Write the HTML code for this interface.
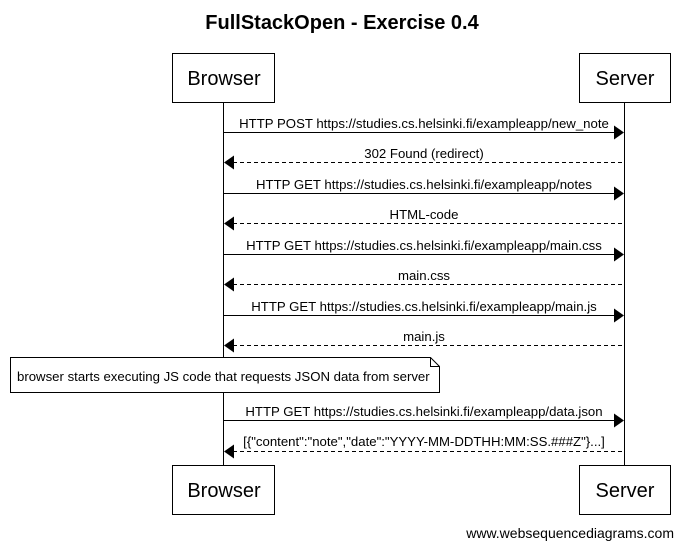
<!DOCTYPE html>
<html><head><meta charset="utf-8"><style>
body{margin:0;background:#fff}
svg{display:block}
text{font-family:"Liberation Sans",Arial,sans-serif;fill:#000}
</style></head><body>
<svg width="683" height="549" viewBox="0 0 683 549" xmlns="http://www.w3.org/2000/svg">
<text x="342" y="29" text-anchor="middle" font-size="20" font-weight="bold">FullStackOpen - Exercise 0.4</text>
<g stroke="#000" fill="#fff">
<line x1="223.5" y1="102" x2="223.5" y2="465"/>
<line x1="624.5" y1="102" x2="624.5" y2="465"/>
<rect x="172.5" y="53.5" width="102" height="49"/>
<rect x="579.5" y="53.5" width="91" height="49"/>
<rect x="172.5" y="465.5" width="102" height="49"/>
<rect x="579.5" y="465.5" width="91" height="49"/>
</g>
<g font-size="20" text-anchor="middle">
<text x="224" y="85">Browser</text><text x="625" y="85">Server</text>
<text x="224" y="497">Browser</text><text x="625" y="497">Server</text>
</g>
<g stroke="#000" stroke-width="1">
<line x1="224" y1="132.5" x2="615" y2="132.5"/>
<line x1="233" y1="162.5" x2="624" y2="162.5" stroke-dasharray="4,3"/>
<line x1="224" y1="193.5" x2="615" y2="193.5"/>
<line x1="233" y1="223.5" x2="624" y2="223.5" stroke-dasharray="4,3"/>
<line x1="224" y1="254.5" x2="615" y2="254.5"/>
<line x1="233" y1="284.5" x2="624" y2="284.5" stroke-dasharray="4,3"/>
<line x1="224" y1="315.5" x2="615" y2="315.5"/>
<line x1="233" y1="345.5" x2="624" y2="345.5" stroke-dasharray="4,3"/>
<line x1="224" y1="420.5" x2="615" y2="420.5"/>
<line x1="233" y1="451.5" x2="624" y2="451.5" stroke-dasharray="4,3"/>
</g>
<g fill="#000">
<path d="M614 125.5L624 132.5L614 139.5Z"/>
<path d="M234 155.5L224 162.5L234 169.5Z"/>
<path d="M614 186.5L624 193.5L614 200.5Z"/>
<path d="M234 216.5L224 223.5L234 230.5Z"/>
<path d="M614 247.5L624 254.5L614 261.5Z"/>
<path d="M234 277.5L224 284.5L234 291.5Z"/>
<path d="M614 308.5L624 315.5L614 322.5Z"/>
<path d="M234 338.5L224 345.5L234 352.5Z"/>
<path d="M614 413.5L624 420.5L614 427.5Z"/>
<path d="M234 444.5L224 451.5L234 458.5Z"/>
</g>
<g font-size="13.2" text-anchor="middle">
<text x="424" y="128">HTTP POST https://studies.cs.helsinki.fi/exampleapp/new_note</text>
<text x="424" y="158">302 Found (redirect)</text>
<text x="424" y="189">HTTP GET https://studies.cs.helsinki.fi/exampleapp/notes</text>
<text x="424" y="219">HTML-code</text>
<text x="424" y="250">HTTP GET https://studies.cs.helsinki.fi/exampleapp/main.css</text>
<text x="424" y="280">main.css</text>
<text x="424" y="311">HTTP GET https://studies.cs.helsinki.fi/exampleapp/main.js</text>
<text x="424" y="341">main.js</text>
<text x="424" y="416">HTTP GET https://studies.cs.helsinki.fi/exampleapp/data.json</text>
<text x="424" y="446">[{"content":"note","date":"YYYY-MM-DDTHH:MM:SS.###Z"}...]</text>
</g>
<path d="M10.5 357.5H430.5L439.5 366.5V392.5H10.5Z" fill="#fff" stroke="#000"/>
<path d="M430.5 357.5V366.5H439.5" fill="none" stroke="#000"/>
<text x="17" y="381" font-size="13.2">browser starts executing JS code that requests JSON data from server</text>
<text x="674" y="538" font-size="14" text-anchor="end">www.websequencediagrams.com</text>
</svg>
</body></html>
